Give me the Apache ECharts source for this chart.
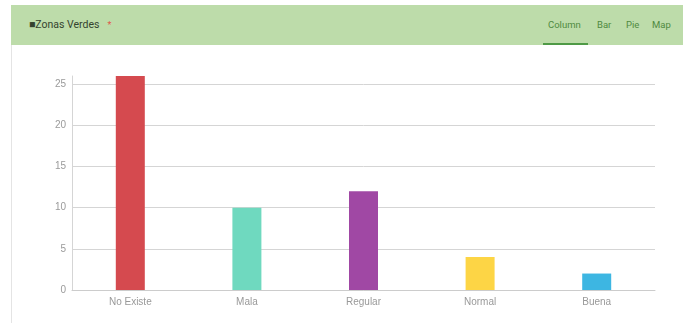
<!DOCTYPE html>
<html>
<head>
<meta charset="utf-8">
<script src="https://cdn.jsdelivr.net/npm/echarts@6/dist/echarts.min.js"></script>
<style>
  body { margin: 0; background: #fff; font-family: "Roboto", sans-serif; }
  #wrap { position: relative; width: 683px; height: 323px; overflow: hidden; }
  #head {
    position: absolute; left: 11px; top: 5px; width: 672px; height: 40px;
    background: #bddcaa;
  }
  #head .title { position: absolute; left: 18px; top: 13px; font-size: 10.5px; color: #34432f; }
  #head .title .star { color: #e0584a; margin-left: 8px; font-size: 9px; }
  #head .tabs span { position: absolute; top: 14px; font-size: 9.5px; color: #4f8a3f; }
  #head .line { position: absolute; left: 532px; top: 38px; width: 45px; height: 2px; background: #4f9a46; }
  #card { position: absolute; left: 11px; top: 45px; width: 1px; height: 278px; background: #e4e4e4; }
  #chart { position: absolute; left: 0; top: 0; width: 683px; height: 323px; }
</style>
</head>
<body>
<div id="wrap">
  <div id="head">
    <div class="title">&#9632;Zonas Verdes<span class="star">*</span></div>
    <div class="tabs">
      <span style="left:537px">Column</span>
      <span style="left:586px">Bar</span>
      <span style="left:615px">Pie</span>
      <span style="left:641px">Map</span>
    </div>
    <div class="line"></div>
  </div>
  <div id="card"></div>
  <div id="chart"></div>
</div>
<script>
var categories = ['No Existe', 'Mala', 'Regular', 'Normal', 'Buena'];
var values = [26, 10, 12, 4, 2];
var colors = ['#d54a4f', '#6fd9bf', '#a048a4', '#fdd545', '#3db6e2'];

var chart = echarts.init(document.getElementById('chart'));
chart.setOption({
  animation: false,
  grid: { left: 72, right: 28, top: 76, bottom: 33 },
  xAxis: {
    type: 'category',
    data: categories,
    axisLine: { lineStyle: { color: '#cccccc' } },
    axisTick: { alignWithLabel: true, length: 3, lineStyle: { color: '#cccccc' } },
    axisLabel: { color: '#999999', fontSize: 10, margin: 7 }
  },
  yAxis: {
    type: 'value',
    min: 0,
    max: 26,
    interval: 5,
    axisLine: { show: true, lineStyle: { color: '#d5d5d5' } },
    axisTick: { show: false },
    splitLine: { showMaxLine: false, lineStyle: { color: '#d5d5d5' } },
    axisLabel: { color: '#9a9a9a', fontSize: 10, margin: 6,
      showMaxLabel: false }
  },
  series: [{
    type: 'bar',
    barWidth: 29,
    data: values.map(function (v, i) {
      return { value: v, itemStyle: { color: colors[i] } };
    })
  }]
});
</script>
</body>
</html>
